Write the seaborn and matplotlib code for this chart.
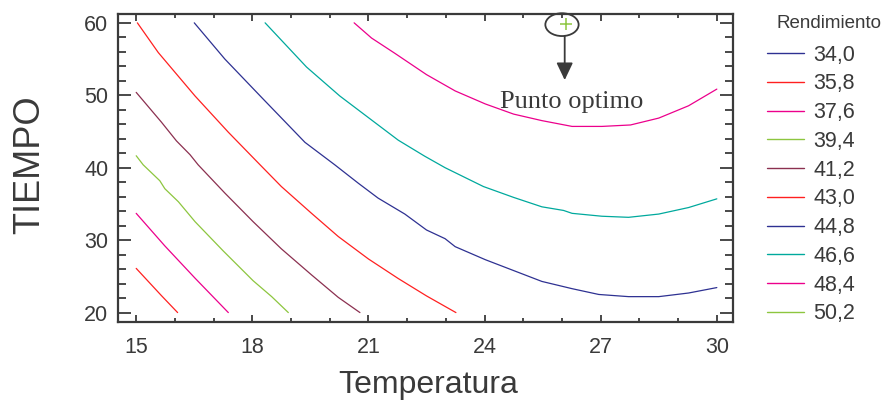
import numpy as np
import pandas as pd
import matplotlib
matplotlib.use("Agg")
import matplotlib.pyplot as plt
from matplotlib.lines import Line2D
from matplotlib.patches import Ellipse
from matplotlib.ticker import MultipleLocator
import seaborn as sns

# contour levels shown in the legend
niveles = [34.0, 35.8, 37.6, 39.4, 41.2, 43.0, 44.8, 46.6, 48.4, 50.2]
etiquetas = ["34,0", "35,8", "37,6", "39,4", "41,2", "43,0", "44,8", "46,6", "48,4", "50,2"]
colores = ["#2E3192", "#FF2020", "#EC008C", "#8DC63F", "#8B3050",
           "#FF2020", "#2E3192", "#00A99D", "#EC008C", "#8DC63F"]

# contour lines (Temperatura, Tiempo)
temp_358 = [15.0, 15.65, 16.07]
tiempo_358 = [26.1, 22.35, 20.0]

temp_376 = [15.0, 15.74, 16.52, 17.38]
tiempo_376 = [33.7, 29.2, 24.75, 20.0]

temp_394 = [15.0, 15.18, 15.61, 15.74, 16.09, 16.52, 17.25, 18.02, 18.5, 18.93]
tiempo_394 = [41.65, 40.4, 38.2, 37.1, 35.3, 32.55, 28.5, 24.4, 22.2, 20.0]

temp_412 = [15.0, 15.65, 16.04, 16.39, 16.6, 17.29, 18.02, 18.75, 19.53, 20.22, 20.78]
tiempo_412 = [50.4, 46.3, 43.7, 41.8, 40.4, 36.5, 32.55, 28.8, 25.2, 22.1, 20.0]

temp_430 = [15.03, 15.57, 16.52, 17.38, 18.2, 18.75, 19.53, 20.22, 21.0, 21.77, 22.5, 23.26]
tiempo_430 = [60.0, 55.9, 49.9, 44.9, 40.4, 37.4, 33.7, 30.5, 27.4, 24.7, 22.3, 20.0]

temp_448 = [16.5, 17.29, 18.24, 19.36, 20.13, 20.74, 21.25, 21.94, 22.5, 22.98, 23.24,
            24.02, 25.48, 26.26, 26.95, 27.72, 28.5, 29.27, 30.0]
tiempo_448 = [60.0, 55.0, 49.7, 43.5, 40.4, 37.85, 35.8, 33.6, 31.4, 30.2, 29.1,
              27.3, 24.3, 23.3, 22.5, 22.2, 22.2, 22.7, 23.45]

temp_466 = [18.33, 19.4, 20.26, 21.77, 22.45, 22.98, 23.97, 24.75, 25.48, 26.04, 26.26,
            27.03, 27.72, 28.5, 29.27, 30.0]
tiempo_466 = [60.0, 53.9, 49.9, 43.8, 41.6, 40.0, 37.4, 35.9, 34.6, 34.1, 33.7,
              33.3, 33.15, 33.6, 34.5, 35.7]

temp_484 = [20.63, 21.08, 21.68, 22.5, 23.24, 24.02, 24.75, 25.48, 26.26, 27.03,
            27.77, 28.5, 29.27, 30.0]
tiempo_484 = [60.0, 57.9, 55.8, 52.85, 50.6, 48.8, 47.4, 46.5, 45.7, 45.7,
              45.9, 46.85, 48.55, 50.85]

# optimum point
opt_temp = 26.1
opt_tiempo = 59.8

curvas = {
    "35,8": (temp_358, tiempo_358),
    "37,6": (temp_376, tiempo_376),
    "39,4": (temp_394, tiempo_394),
    "41,2": (temp_412, tiempo_412),
    "43,0": (temp_430, tiempo_430),
    "44,8": (temp_448, tiempo_448),
    "46,6": (temp_466, tiempo_466),
    "48,4": (temp_484, tiempo_484),
}

filas = []
for nivel, (tx, ty) in curvas.items():
    for i, (a, b) in enumerate(zip(tx, ty)):
        filas.append({"Temperatura": a, "Tiempo": b, "Rendimiento": nivel, "orden": i})
d = pd.DataFrame(filas)

paleta = dict(zip(etiquetas, colores))

sns.set_style("ticks")
plt.rcParams["font.family"] = ["Liberation Sans", "DejaVu Sans"]

gris = "#3a3a3a"
fig = plt.figure(figsize=(8.94, 4.04), dpi=100)
ax = fig.add_axes([0.132, 0.203, 0.688, 0.762])

sns.lineplot(data=d, x="Temperatura", y="Tiempo", hue="Rendimiento", palette=paleta,
             units="Rendimiento", estimator=None, sort=False, lw=0.9, legend=False, ax=ax)

ax.set_xlim(14.53, 30.42)
ax.set_ylim(18.7, 61.2)
ax.xaxis.set_major_locator(MultipleLocator(3))
ax.xaxis.set_minor_locator(MultipleLocator(1))
ax.yaxis.set_major_locator(MultipleLocator(10))
ax.yaxis.set_minor_locator(MultipleLocator(2))

for s in ax.spines.values():
    s.set_linewidth(1.6)
    s.set_color(gris)
ax.tick_params(which="both", direction="in", top=True, right=True, color=gris,
               width=1.3, labelcolor=gris, labelsize=15.5)
ax.tick_params(axis="x", which="major", length=5, pad=11)
ax.tick_params(axis="x", which="minor", length=3)
ax.tick_params(axis="y", which="major", length=9.5, pad=7)
ax.tick_params(axis="y", which="minor", length=5.5)

ax.set_xlabel("Temperatura", fontsize=23, color=gris)
ax.set_ylabel("TIEMPO", fontsize=26, color=gris)
ax.xaxis.label.set_va("center")
ax.yaxis.label.set_va("center")
ax.xaxis.set_label_coords(0.504, -0.205)
ax.yaxis.set_label_coords(-0.143, 0.51)

# optimum marker, ellipse, arrow and text
ax.plot([opt_temp], [opt_tiempo], marker="+", color="#8DC63F", ms=9, mew=1.1, clip_on=False)
ax.add_patch(Ellipse((26.0, 59.75), 0.86, 3.15, fill=False, ec=gris, lw=1.3, clip_on=False))
ax.annotate("", xy=(26.07, 52.1), xytext=(26.07, 58.2),
            arrowprops=dict(arrowstyle="-|>,head_length=1.05,head_width=0.5",
                            color=gris, lw=1.3, shrinkA=0, shrinkB=0))
ax.text(26.25, 48.2, "Punto optimo", ha="center", va="baseline", fontsize=19,
        color=gris, family=["Liberation Serif", "DejaVu Serif"])

# legend
handles = [Line2D([0], [0], color=c, lw=1.0) for c in colores]
fig.legend(handles, etiquetas, loc="upper left", bbox_to_anchor=(0.8456, 0.916),
           frameon=False, fontsize=15.5, borderpad=0, handlelength=1.75,
           handletextpad=0.4, labelspacing=0.36, labelcolor=gris)
fig.text(0.869, 1 - 23 / 404, "Rendimiento", ha="left", va="center", fontsize=13.5, color=gris)

plt.savefig("out.png", dpi=100)
